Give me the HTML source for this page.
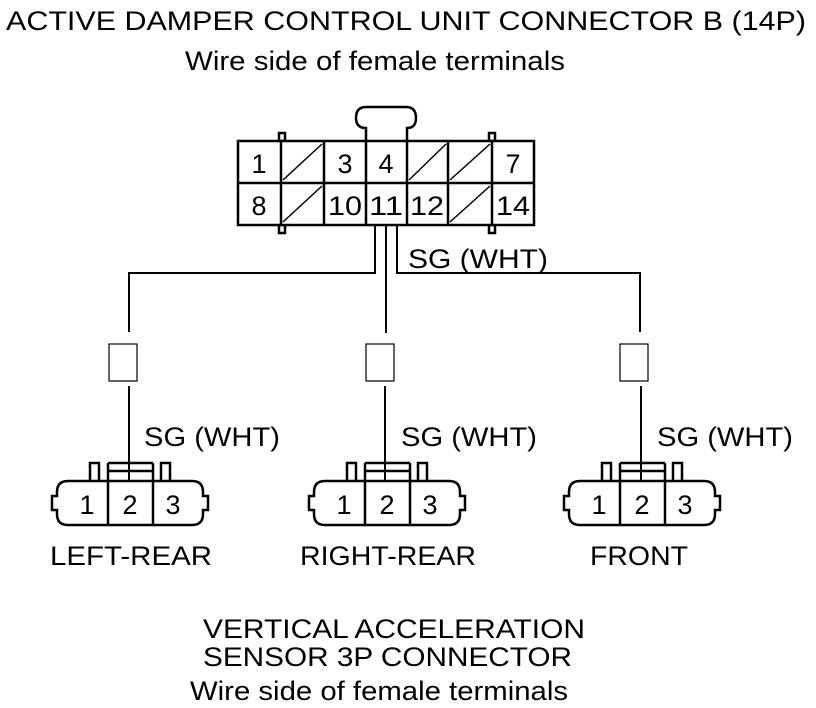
<!DOCTYPE html>
<html><head><meta charset="utf-8"><style>
html,body{margin:0;padding:0;background:#fff;}
svg{display:block;}
text{font-family:"Liberation Sans",Arial,sans-serif;fill:#000;}
</style></head><body>
<svg width="816" height="708" viewBox="0 0 816 708" xmlns="http://www.w3.org/2000/svg">
<defs>
<g id="sens" fill="none" stroke="#000" stroke-width="2.5">
  <path d="M-62,481 H62 Q73,481 73,492 V496 H78 V510 H73 V514 Q73,525 62,525 H-62 Q-73,525 -73,514 V510 H-78 V496 H-73 V492 Q-73,481 -62,481 Z" fill="#fff"/>
  <line x1="-22" y1="463" x2="-22" y2="525"/>
  <line x1="23" y1="463" x2="23" y2="525"/>
  <path d="M-22,463 H23 M-22,471 H23"/>
  <path d="M-40,481 V463 H-31 V481 M31,481 V463 H40 V481"/>
</g>
</defs>

<text x="6" y="30" font-size="27" textLength="800" lengthAdjust="spacingAndGlyphs">ACTIVE DAMPER CONTROL UNIT CONNECTOR B (14P)</text>
<text x="185" y="70" font-size="27" textLength="380" lengthAdjust="spacingAndGlyphs">Wire side of female terminals</text>

<g fill="none" stroke="#000" stroke-width="2.5">
  <path d="M366,141 V128 Q356,128 356,118 Q356,107 366,107 H406 Q416,107 416,118 Q416,128 407,128 V141"/>
  <rect x="279" y="133" width="6" height="8"/>
  <rect x="279" y="225" width="6" height="8"/>
  <rect x="489" y="133" width="6" height="8"/>
  <rect x="489" y="225" width="6" height="8"/>
  <rect x="238" y="141" width="296" height="84" fill="#fff"/>
  <line x1="238" y1="183" x2="534" y2="183"/>
  <path d="M281,141 V225 M324,141 V225 M366,141 V225 M407,141 V225 M448,141 V225 M492,141 V225"/>
</g>
<g stroke="#000" stroke-width="1.5">
  <line x1="283" y1="180" x2="322" y2="144"/>
  <line x1="283" y1="222" x2="322" y2="186"/>
  <line x1="409" y1="180" x2="446" y2="144"/>
  <line x1="450" y1="180" x2="490" y2="144"/>
  <line x1="450" y1="222" x2="490" y2="186"/>
</g>
<g font-size="27" text-anchor="middle">
  <text x="259" y="173">1</text><text x="345" y="173">3</text><text x="386" y="173">4</text><text x="513" y="173">7</text>
  <text x="259" y="215">8</text><text x="345" y="215" textLength="34" lengthAdjust="spacingAndGlyphs">10</text><text x="386" y="215" textLength="34" lengthAdjust="spacingAndGlyphs">11</text><text x="427" y="215" textLength="34" lengthAdjust="spacingAndGlyphs">12</text><text x="513" y="215" textLength="34" lengthAdjust="spacingAndGlyphs">14</text>
</g>

<g fill="none" stroke="#000" stroke-width="2">
  <path d="M375,225 V273 H129 V332"/>
  <path d="M386,225 V333"/>
  <path d="M397,225 V273 H640 V332"/>
</g>
<g fill="#fff" stroke="#000" stroke-width="1.2">
  <rect x="109" y="344" width="28" height="37"/>
  <rect x="366" y="344" width="28" height="37"/>
  <rect x="620" y="344" width="28" height="37"/>
</g>
<text x="408" y="268" font-size="27" textLength="140" lengthAdjust="spacingAndGlyphs">SG (WHT)</text>

<use href="#sens" transform="translate(130,0)"/>
<use href="#sens" transform="translate(387,0)"/>
<use href="#sens" transform="translate(642,0)"/>
<g fill="none" stroke="#000" stroke-width="2">
  <line x1="129" y1="386" x2="129" y2="481"/>
  <line x1="385" y1="386" x2="385" y2="481"/>
  <line x1="641" y1="386" x2="641" y2="481"/>
</g>

<g font-size="27">
  <text x="144" y="446" textLength="136" lengthAdjust="spacingAndGlyphs">SG (WHT)</text>
  <text x="401" y="446" textLength="136" lengthAdjust="spacingAndGlyphs">SG (WHT)</text>
  <text x="657" y="446" textLength="136" lengthAdjust="spacingAndGlyphs">SG (WHT)</text>
</g>
<g font-size="27" text-anchor="middle">
  <text x="87" y="514">1</text><text x="130" y="514">2</text><text x="173" y="514">3</text>
  <text x="344" y="514">1</text><text x="387" y="514">2</text><text x="430" y="514">3</text>
  <text x="599" y="514">1</text><text x="642" y="514">2</text><text x="685" y="514">3</text>
</g>
<g font-size="27">
  <text x="50" y="565" textLength="162" lengthAdjust="spacingAndGlyphs">LEFT-REAR</text>
  <text x="300" y="565" textLength="176" lengthAdjust="spacingAndGlyphs">RIGHT-REAR</text>
  <text x="590" y="565" textLength="98" lengthAdjust="spacingAndGlyphs">FRONT</text>
  <text x="203" y="638" textLength="382" lengthAdjust="spacingAndGlyphs">VERTICAL ACCELERATION</text>
  <text x="203" y="666" textLength="369" lengthAdjust="spacingAndGlyphs">SENSOR 3P CONNECTOR</text>
  <text x="190" y="700" textLength="378" lengthAdjust="spacingAndGlyphs">Wire side of female terminals</text>
</g>
</svg>
</body></html>
